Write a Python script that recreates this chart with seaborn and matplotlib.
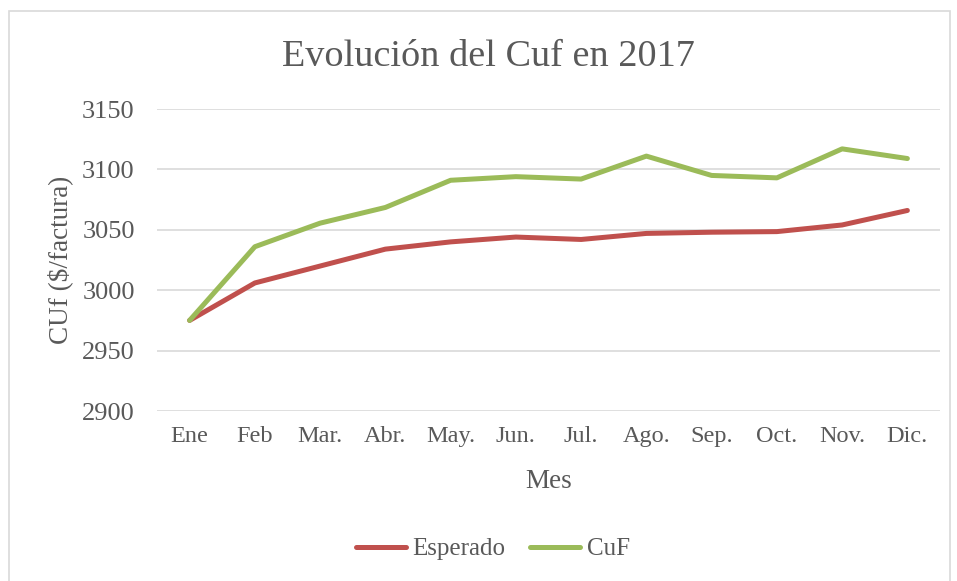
import matplotlib
matplotlib.use("Agg")
import matplotlib.pyplot as plt
import pandas as pd
import seaborn as sns
from matplotlib.patches import Rectangle

# ── Data ──────────────────────────────────────────────────────────────────────
MESES = ["Ene", "Feb", "Mar.", "Abr.", "May.", "Jun.",
         "Jul.", "Ago.", "Sep.", "Oct.", "Nov.", "Dic."]
ESPERADO = [2975, 3006, 3020, 3034, 3040, 3044, 3042, 3047, 3048, 3048.5, 3054, 3066]
CUF      = [2975, 3036, 3055.5, 3068.5, 3091, 3094, 3092, 3111, 3095, 3093, 3117, 3109]
SERIES = ["Esperado", "CuF"]
COLORES = {"Esperado": "#C0504D", "CuF": "#9BBB59"}
YTICKS = [2900, 2950, 3000, 3050, 3100, 3150]

df = pd.concat([
    pd.DataFrame({"Mes": MESES, "valor": ESPERADO, "serie": "Esperado"}),
    pd.DataFrame({"Mes": MESES, "valor": CUF, "serie": "CuF"}),
])

# ── Style ─────────────────────────────────────────────────────────────────────
sns.set_style("white")
plt.rcParams["font.family"] = ["Liberation Serif", "DejaVu Serif"]
TXT = "#595959"

fig = plt.figure(figsize=(9.57, 5.81), dpi=100)
W, H = 957, 581
ax = fig.add_axes([157 / W, 1 - 411 / H, (940 - 157) / W, (411 - 109) / H])

sns.lineplot(data=df, x="Mes", y="valor", hue="serie", hue_order=SERIES,
             palette=COLORES, linewidth=3.6, sort=False, legend=False, ax=ax)
for ln in ax.lines:
    ln.set_solid_capstyle("round")
    ln.set_solid_joinstyle("round")

ax.set_ylim(2900, 3150)
ax.set_xlim(-0.5, len(MESES) - 0.5)
ax.set_yticks(YTICKS)
ax.grid(axis="y", color="#D9D9D9", linewidth=1.2)
ax.set_axisbelow(True)
sns.despine(ax=ax, left=True, bottom=True)
ax.tick_params(axis="both", length=0, colors=TXT)
ax.tick_params(axis="y", pad=16, labelsize=19)
ax.tick_params(axis="x", pad=11, labelsize=17.5)

ax.set_xlabel("Mes", fontsize=19.5, color=TXT)
ax.set_ylabel("CUf ($/factura)", fontsize=19.5, color=TXT)
ax.xaxis.set_label_coords(0.5, (411 - 481) / 302, transform=ax.transAxes)
ax.yaxis.set_label_coords((60 - 157) / 783, 0.5)
ax.xaxis.label.set_va("center")
ax.yaxis.label.set_va("center")

fig.text(488 / W, 1 - 57 / H, "Evolución del Cuf en 2017", fontsize=27.5,
         color=TXT, ha="center", va="center")

handles = [plt.Line2D([], [], color=COLORES[s], linewidth=3.6,
                      solid_capstyle="round") for s in SERIES]
fig.legend(handles, SERIES, loc="center", bbox_to_anchor=(493 / W, 1 - 549 / H),
           ncol=2, frameon=False, fontsize=18, handlelength=2.0,
           columnspacing=1.0, handletextpad=0.25, labelcolor=TXT)

# chart frame
fig.patches.append(Rectangle((9 / W, -0.05), (950 - 9) / W, 1.05 - 11 / H,
                             transform=fig.transFigure, fill=False,
                             edgecolor="#D9D9D9", linewidth=1.2))

fig.savefig("out.png", dpi=100)
